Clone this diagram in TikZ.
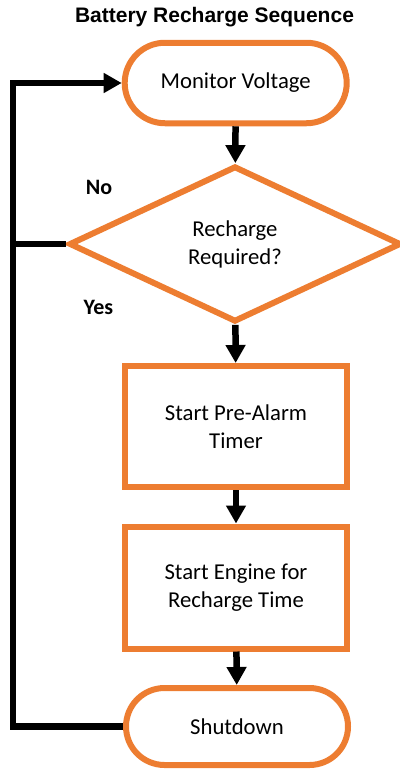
\documentclass[tikz,border=0pt]{standalone}
\usepackage{fontspec}
\setmainfont{Carlito}
\newfontfamily\titlefont{Liberation Sans}
\usetikzlibrary{shapes.geometric,shapes.misc,arrows.meta}
\definecolor{flowOrange}{RGB}{237,125,49}

\begin{document}
\begin{tikzpicture}[x=1pt,y=1pt,yscale=-1,xscale=1,
  term/.style={rounded rectangle, draw=flowOrange, line width=6pt, minimum width=222pt, inner sep=0pt, font=\fontsize{22.7}{28}\selectfont},
  proc/.style={rectangle, draw=flowOrange, line width=6pt, minimum width=222pt, minimum height=121pt, inner sep=0pt, align=center, font=\fontsize{22.7}{28}\selectfont},
  decide/.style={diamond, draw=flowOrange, line width=6pt, minimum width=332pt, minimum height=156pt, inner sep=0pt, align=center, font=\fontsize{22.7}{28}\selectfont},
  flow/.style={line width=6.5pt, line join=miter, -{Triangle[length=18pt,width=19pt]}},
  link/.style={line width=6.5pt, line join=miter},
  lbl/.style={inner sep=0pt, font=\bfseries\fontsize{22}{26}\selectfont}
]
\useasboundingbox (0,0) rectangle (399,771);

% Text Node
\node (title) at (214.5,17) [inner sep=0pt] {\titlefont\bfseries\fontsize{21}{24}\selectfont Battery Recharge Sequence};

%Shape: Terminal
\node (monitor) at (235.7,83) [term, minimum height=80.5pt] {Monitor Voltage};
%Shape: Diamond
\node (decision) at (235,244) [decide] {Recharge\\Required?};
%Shape: Rectangle
\node (prealarm) at (236,426.5) [proc] {Start Pre-Alarm\\Timer};
%Shape: Rectangle
\node (engine) at (236,587.5) [proc, minimum height=122pt] {Start Engine for\\Recharge Time};
%Shape: Terminal
\node (shutdown) at (237,726.5) [term, minimum height=77pt] {Shutdown};

% Text Node
\node (nolbl) at (99,187) [lbl] {No};
% Text Node
\node (yeslbl) at (98.5,307.5) [lbl] {Yes};

\coordinate (loopx) at (13,400);

%Straight Lines
\draw [flow] (monitor) -- (decision);
\draw [flow] (decision) -- (prealarm);
\draw [flow] (prealarm) -- (engine);
\draw [flow] (engine) -- (shutdown);
%Straight Lines
\draw [flow] (shutdown.west) -| (loopx) |- (monitor.west);
\draw [link] (decision.west) -- (decision.west -| loopx);

\end{tikzpicture}
\end{document}
